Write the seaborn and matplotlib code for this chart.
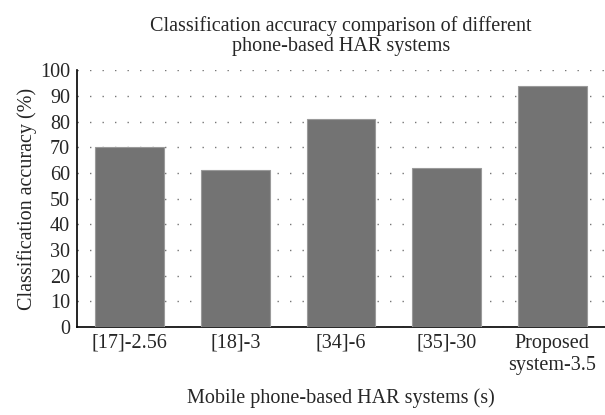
import pandas as pd
import matplotlib
matplotlib.use("Agg")
import matplotlib.pyplot as plt
import seaborn as sns

# -----------------------------
# Data
# -----------------------------
systems = ["[17]-2.56", "[18]-3", "[34]-6", "[35]-30", "Proposed\nsystem-3.5"]
accuracy = [70, 61, 81, 62, 94]
yticks = list(range(0, 101, 10))

data = pd.DataFrame({"system": systems, "accuracy": accuracy})

# -----------------------------
# Style
# -----------------------------
sns.set_style("white")
plt.rcParams["font.family"] = ["Liberation Serif", "DejaVu Serif"]

fig = plt.figure(figsize=(6.05, 4.15), dpi=100)
ax = fig.add_axes([0.127, 0.212, 0.873, 0.619])

sns.barplot(data=data, x="system", y="accuracy", color="#737373",
            width=0.65, edgecolor="#9a9a9a", linewidth=0.8,
            saturation=1, ax=ax, zorder=3)

ax.set_ylim(0, 100)
ax.set_xlim(-0.5, 4.5)
ax.set_yticks(yticks)
ax.tick_params(axis="both", length=0, labelsize=14.5, pad=5)
ax.yaxis.grid(True, linestyle=(0, (1, 8)), color="#777777", linewidth=1.0)
ax.xaxis.grid(False)

for side in ["top", "right"]:
    ax.spines[side].set_visible(False)
for side in ["left", "bottom"]:
    ax.spines[side].set_color("black")
    ax.spines[side].set_linewidth(1.2)

ax.set_xlabel("Mobile phone-based HAR systems (s)", fontsize=14.5, labelpad=10)
ax.set_ylabel("Classification accuracy (%)", fontsize=14.5, labelpad=2)
ax.set_title("Classification accuracy comparison of different\nphone-based HAR systems",
             fontsize=14.5, pad=14, linespacing=1.05)

plt.savefig("out.png", dpi=100)
